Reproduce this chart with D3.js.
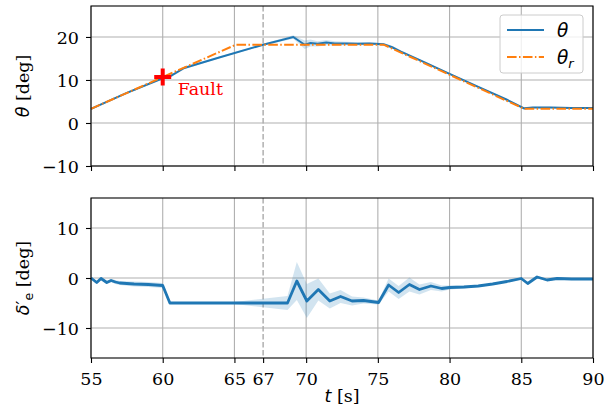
<!DOCTYPE html>
<html>
<head>
<meta charset="utf-8">
<script src="https://cdn.jsdelivr.net/npm/d3@7"></script>
<style>
  body { margin: 0; background: #fff; }
  svg { display: block; }
</style>
</head>
<body>
<svg id="chart"></svg>
<script>
'use strict';
// top panel: measured angle, its spread, and the reference
const THETA_T    = [55, 57.5, 60, 60.6, 61.5, 64, 67, 69.1, 69.9, 70.3, 70.8, 71.4, 72.0, 72.8, 73.6, 74.4, 75.4, 76.0, 76.6, 78, 80, 82, 84, 85.2, 85.8, 87, 88.5, 90];
const THETA_V    = [3.3, 7.0, 10.4, 11.0, 12.8, 15.3, 18.2, 20.0, 18.2, 18.6, 18.4, 18.7, 18.5, 18.5, 18.4, 18.5, 18.3, 17.6, 16.6, 14.5, 11.4, 8.4, 5.4, 3.4, 3.6, 3.6, 3.5, 3.5];
const THETA_SPREAD = [0.2, 0.2, 0.2, 0.3, 0.3, 0.2, 0.2, 0.4, 1.0, 0.8, 0.6, 0.6, 0.5, 0.4, 0.4, 0.3, 0.3, 0.3, 0.3, 0.2, 0.2, 0.2, 0.2, 0.2, 0.2, 0.2, 0.2, 0.2];
const THETA_REF_T = [55, 65.1, 75.4, 85.2, 90];
const THETA_REF_V = [3.3, 18.2, 18.2, 3.3, 3.3];

// bottom panel: delta'_e and its spread
const DELTA_T = [55, 55.4, 55.7, 56.1, 56.4, 56.7, 57, 58, 59, 60, 60.5, 65, 68.7, 69.35, 70.05, 70.85, 71.65, 72.4, 73.2, 74.0, 75.05, 75.75, 76.45, 77.2, 77.9, 78.7, 79.45, 80, 81, 82, 83, 84, 85, 85.45, 86.1, 86.8, 87.5, 88.5, 90];
const DELTA_V = [0, -0.9, -0.1, -0.9, -0.5, -0.8, -1.0, -1.2, -1.3, -1.5, -5.0, -5.0, -5.0, -0.6, -4.6, -2.3, -4.6, -3.7, -4.6, -4.5, -4.9, -1.4, -2.9, -1.3, -2.3, -1.6, -2.1, -1.9, -1.8, -1.6, -1.2, -0.7, -0.1, -1.1, 0.2, -0.4, -0.1, -0.2, -0.2];
const DELTA_SPREAD = [0.2, 0.3, 0.3, 0.3, 0.3, 0.4, 0.4, 0.5, 0.5, 0.5, 0.2, 0.2, 1.4, 3.8, 3.4, 2.2, 1.5, 1.3, 0.9, 0.6, 0.4, 1.3, 1.3, 1.4, 1.0, 0.8, 0.6, 0.4, 0.3, 0.2, 0.2, 0.2, 0.2, 0.2, 0.2, 0.2, 0.2, 0.2, 0.2];

const X_TICKS = [55, 60, 65, 67, 70, 75, 80, 85, 90];
const X_GRID = [55, 60, 65, 70, 75, 80, 85, 90];
const THETA_TICKS = [-10, 0, 10, 20];
const DELTA_TICKS = [-10, 0, 10];
const FAULT_T = 60, FAULT_V = 10.7;
const MARK_T = 67;

const WIDTH = 616, HEIGHT = 420;
const LEFT = 91, RIGHT = 593;
const TOP1 = 6, BOT1 = 166, TOP2 = 198, BOT2 = 358;
const BLUE = '#1f77b4', ORANGE = '#ff7f0e', GRID = '#b0b0b0';
const SERIF = 'DejaVu Serif', SANS = 'DejaVu Sans';
const FS = 17.5;

let svg = d3.select('#chart').attr('width', WIDTH).attr('height', HEIGHT);
svg.append('rect').attr('width', WIDTH).attr('height', HEIGHT).attr('fill', '#fff');

let x = d3.scaleLinear().domain([55, 90]).range([LEFT, RIGHT]);
let y1 = d3.scaleLinear().domain([-10, 27.2]).range([BOT1, TOP1]);
let y2 = d3.scaleLinear().domain([-16, 16]).range([BOT2, TOP2]);

function zip(t, v, s) {
  return t.map(function(d, i) { return { t: d, v: v[i], s: s ? s[i] : 0 }; });
}

function serif(sel) { return sel.style('font-family', SERIF).style('font-style', 'normal'); }
function math(sel) { return sel.style('font-family', SANS).style('font-style', 'italic'); }

function panel(y, top, bot, yTicks) {
  let g = svg.append('g');
  // grid
  g.selectAll('.gx').data(X_GRID).enter().append('line')
    .attr('x1', function(d) { return x(d) }).attr('x2', function(d) { return x(d) })
    .attr('y1', top).attr('y2', bot)
    .attr('stroke', GRID).attr('stroke-width', 1.1);
  g.selectAll('.gy').data(yTicks).enter().append('line')
    .attr('x1', LEFT).attr('x2', RIGHT)
    .attr('y1', function(d) { return y(d) }).attr('y2', function(d) { return y(d) })
    .attr('stroke', GRID).attr('stroke-width', 1.1);
  // dashed marker at t = 67
  g.append('line')
    .attr('x1', x(MARK_T)).attr('x2', x(MARK_T)).attr('y1', top).attr('y2', bot)
    .attr('stroke', '#aaaaaa').attr('stroke-width', 1.4).attr('stroke-dasharray', '5.5,2.5');
  return g;
}

function axes(y, top, bot, yTicks, xLabels) {
  let g = svg.append('g');
  let ax = g.append('g').attr('transform', 'translate(0,' + bot + ')')
    .call(d3.axisBottom(x).tickValues(xLabels ? X_TICKS : X_GRID).tickSize(5).tickSizeOuter(0)
      .tickFormat(xLabels ? d3.format('d') : ''));
  serif(ax.selectAll('text').attr('y', 27).attr('dy', 0).attr('font-size', FS).attr('fill', '#000'));
  let ay = g.append('g').attr('transform', 'translate(' + LEFT + ',0)')
    .call(d3.axisLeft(y).tickValues(yTicks).tickSize(5).tickSizeOuter(0)
      .tickFormat(function(d) { return d < 0 ? '\u2212' + Math.abs(d) : d }));
  serif(ay.selectAll('text').attr('x', -12).attr('dy', '0.36em').attr('font-size', FS).attr('fill', '#000'));
  g.selectAll('.domain').remove();
  g.selectAll('.tick line').attr('stroke', '#000').attr('stroke-width', 1.1);
  g.append('rect').attr('x', LEFT).attr('y', top).attr('width', RIGHT - LEFT).attr('height', bot - top)
    .attr('fill', 'none').attr('stroke', '#000').attr('stroke-width', 1.1);
}

// ---- top panel
let p1 = panel(y1, TOP1, BOT1, THETA_TICKS);
let theta = zip(THETA_T, THETA_V, THETA_SPREAD);
let thetaRef = zip(THETA_REF_T, THETA_REF_V);

p1.append('path').datum(theta)
  .attr('fill', BLUE).attr('fill-opacity', 0.2)
  .attr('d', d3.area()
    .x(function(d) { return x(d.t) })
    .y0(function(d) { return y1(d.v - d.s) })
    .y1(function(d) { return y1(d.v + d.s) }));
p1.append('path').datum(theta)
  .attr('fill', 'none').attr('stroke', BLUE).attr('stroke-width', 2)
  .attr('d', d3.line().x(function(d) { return x(d.t) }).y(function(d) { return y1(d.v) }));
p1.append('path').datum(thetaRef)
  .attr('fill', 'none').attr('stroke', ORANGE).attr('stroke-width', 2)
  .attr('stroke-dasharray', '9.6,2.4,1.5,2.4')
  .attr('d', d3.line().x(function(d) { return x(d.t) }).y(function(d) { return y1(d.v) }));

// fault marker
let fx = x(FAULT_T), fy = y1(FAULT_V);
p1.append('path')
  .attr('d', 'M' + (fx - 8.5) + ',' + fy + 'H' + (fx + 8.5) + 'M' + fx + ',' + (fy - 8.5) + 'V' + (fy + 8.5))
  .attr('stroke', '#ff0000').attr('stroke-width', 4);
serif(p1.append('text').attr('x', fx + 15).attr('y', fy + 18.5)
  .attr('font-size', FS).attr('fill', '#ff0000').text('Fault'));

axes(y1, TOP1, BOT1, THETA_TICKS, false);

// legend
let lg = svg.append('g').attr('transform', 'translate(500,15)');
lg.append('rect').attr('width', 83).attr('height', 58).attr('rx', 3)
  .attr('fill', '#fff').attr('fill-opacity', 0.8).attr('stroke', '#cccccc').attr('stroke-width', 1);
lg.append('line').attr('x1', 7).attr('x2', 44).attr('y1', 15).attr('y2', 15)
  .attr('stroke', BLUE).attr('stroke-width', 2);
lg.append('line').attr('x1', 7).attr('x2', 44).attr('y1', 42).attr('y2', 42)
  .attr('stroke', ORANGE).attr('stroke-width', 2).attr('stroke-dasharray', '9.6,2.4,1.5,2.4');
math(lg.append('text').attr('x', 57).attr('y', 22).attr('font-size', 18.5).text('\u03b8'));
let lr = math(lg.append('text').attr('x', 57).attr('y', 49).attr('font-size', 18.5));
lr.append('tspan').text('\u03b8');
lr.append('tspan').attr('font-size', 13).attr('dy', 4).text('r');

// ---- bottom panel
let p2 = panel(y2, TOP2, BOT2, DELTA_TICKS);
let delta = zip(DELTA_T, DELTA_V, DELTA_SPREAD);
p2.append('path').datum(delta)
  .attr('fill', BLUE).attr('fill-opacity', 0.2)
  .attr('d', d3.area()
    .x(function(d) { return x(d.t) })
    .y0(function(d) { return y2(d.v - d.s) })
    .y1(function(d) { return y2(d.v + d.s) }));
p2.append('path').datum(delta)
  .attr('fill', 'none').attr('stroke', BLUE).attr('stroke-width', 2.8)
  .attr('stroke-linejoin', 'round')
  .attr('d', d3.line().x(function(d) { return x(d.t) }).y(function(d) { return y2(d.v) }));

axes(y2, TOP2, BOT2, DELTA_TICKS, true);

// axis labels
let xl = serif(svg.append('text').attr('x', (LEFT + RIGHT) / 2).attr('y', 402)
  .attr('text-anchor', 'middle').attr('font-size', FS));
math(xl.append('tspan').text('t'));
xl.append('tspan').text(' [s]');

let yl1 = serif(svg.append('text')
  .attr('transform', 'translate(29,' + (TOP1 + BOT1) / 2 + ') rotate(-90)')
  .attr('text-anchor', 'middle').attr('font-size', FS));
math(yl1.append('tspan').text('\u03b8'));
yl1.append('tspan').text(' [deg]');

let yl2 = serif(svg.append('text')
  .attr('transform', 'translate(29,' + (TOP2 + BOT2) / 2 + ') rotate(-90)')
  .attr('text-anchor', 'middle').attr('font-size', FS));
math(yl2.append('tspan').text('\u03b4'));
yl2.append('tspan').style('font-family', SANS).text('\u2032');
yl2.append('tspan').style('font-family', SANS).attr('font-size', 12.5).attr('dy', 4).text('e');
yl2.append('tspan').attr('dy', -4).text(' [deg]');
</script>
</body>
</html>
